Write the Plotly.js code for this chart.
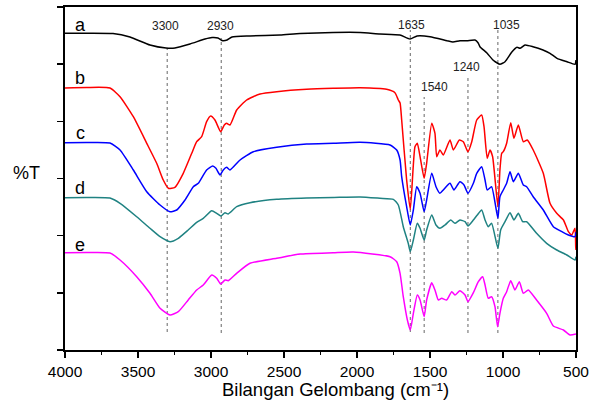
<!DOCTYPE html>
<html>
<head>
<meta charset="utf-8">
<script src="https://cdn.plot.ly/plotly-3.0.1.min.js"></script>
<style>html,body{margin:0;padding:0;background:#fff;}#chart{width:601px;height:400px;}</style>
</head>
<body>
<div id="chart"></div>
<script>
// Wavenumbers (cm-1) and transmittance (arbitrary, offset) values
const wnA = [4000,3671,3555,3418,3308,3247,3144,3041,2993,2952,2925,2890,2856,2733,2527,2390,2164,1979,1843,1706,1637,1589,1500,1384,1343,1295,1247,1192,1171,1158,1110,1069,1021,986,938,904,884,849,795,726,678,630,562,507,500];
const tA  = [316.7,316.5,313,305,302,302,306,311,312.5,312,309.5,310,313,314,315,316.5,317.5,317.5,316,315,311,314,313.3,309.3,308,309.3,309.3,310,307.3,303.3,297,290,285.7,288.3,298.3,302.7,301.7,305,303.3,300,296.7,291.7,288.3,285.7,290];

const wnB = [4000,3850,3692,3623,3532,3440,3372,3327,3292,3247,3190,3132,3098,3064,3030,3002,2973,2934,2909,2893,2870,2824,2756,2664,2550,2345,2162,1979,1797,1740,1717,1705,1694,1660,1635,1603,1587,1568,1540,1523,1488,1466,1454,1432,1409,1363,1340,1299,1272,1240,1214,1180,1146,1130,1108,1089,1071,1035,1021,1009,998,975,947,925,895,861,834,793,724,678,632,586,552,529,507,502,500];
const tB  = [262,262.5,262,253.3,233.3,206.7,186.7,170,161.7,162.7,176.7,196.7,208.3,213.3,228.3,234,230,218.3,225,226.7,225,240,250,256,258.3,260.7,261.7,262.3,260.7,257.3,250,247,230,170,140.5,203.3,206.7,193.3,171.7,186.7,226.7,216.7,193.3,200,195,210,200,210,208.3,198.3,208.3,230,235,223.3,191.7,200,193.3,143.3,180,196.7,198.3,206.7,227.3,211.7,225,208.3,210,200,176.7,146.7,136.7,130,118.3,115,121.7,103.3,100];

const wnC = [4000,3850,3692,3623,3532,3440,3349,3281,3235,3178,3121,3087,3030,2988,2966,2938,2916,2893,2870,2801,2710,2550,2345,2162,1979,1774,1728,1705,1694,1660,1635,1614,1591,1568,1540,1523,1488,1459,1432,1409,1363,1336,1295,1267,1240,1203,1180,1146,1123,1108,1078,1035,1021,998,975,952,929,895,861,838,793,724,655,597,552,507,500];
const tC  = [207.3,207.5,207,200,180,158.3,145,138.3,140,150,163.3,166.7,180,184,181.7,175,180,182.7,180,190,198.3,202.7,206,206.7,207.7,205,200,190,173.3,143.3,125,140,163.3,156.7,138.3,150,176.7,163.3,156.7,160,166.7,160,168.3,165,156.7,166.7,176.7,183.3,170,160,163.3,131.7,153.3,160,166.7,178.3,168.3,176.7,165,163.3,153.3,140,123.3,118.3,115,113.3,118];

const wnD = [4000,3850,3692,3623,3509,3418,3349,3281,3224,3156,3098,3053,2995,2961,2932,2904,2882,2824,2733,2550,2345,2162,1979,1843,1751,1717,1683,1649,1635,1614,1587,1568,1540,1523,1488,1459,1432,1397,1358,1329,1295,1260,1240,1203,1176,1146,1123,1101,1078,1035,1016,986,952,925,895,865,838,770,701,632,563,507,500];
const tD  = [152.3,152.5,152,146.7,133.3,121.7,113.3,108.3,111.7,120,127.7,131.7,139.3,136.7,134,137.3,136,143.3,147.3,150.7,152,152.5,153,151.7,150.7,145,123.3,106.7,98.3,110,126.7,121.7,110,120,135,125,121.7,125,130,126.7,130,128.3,124,130,135,140,130,123.3,126.7,101.7,120,128.3,137.3,130,136.7,128.3,128.3,116.7,106.7,100,95,90,93.3];

const wnE = [4000,3850,3692,3623,3509,3418,3349,3281,3224,3156,3098,3053,2995,2961,2934,2904,2882,2824,2733,2550,2390,2162,2025,1774,1728,1705,1683,1655,1635,1614,1587,1568,1540,1523,1488,1466,1443,1420,1386,1351,1329,1295,1260,1240,1203,1169,1139,1123,1101,1078,1055,1037,1021,998,975,947,918,888,861,827,770,701,655,586,541,500];
const tE  = [97.3,97.5,97,90,73.3,56.7,41.7,35,38.3,50,60,65,75,71.7,66,70,69.3,76.7,86.7,91.7,96,97.3,98,93.3,88.3,76.7,53.3,30,20,36.7,55,50,33.3,50,67.3,60,50,51.7,50,58.3,55,59.3,55,48.3,57.3,68.3,73.3,65,51.7,53.3,43.3,23.3,36.7,51.7,58.3,69.3,60,68.3,56.7,60,50,36.7,24,20,15,16];

const seriesNames = ['a','b','c','d','e'];
const peakWn    = [3300,2930,1635,1540,1240,1035];
const peakTop   = [302,312,320,253,275,320];
const peakBottom= [18,17,18,17,17,17];
const peakLabels= ['3300','2930','1635','1540','1240','1035'];
const xTickVals = [4000,3500,3000,2500,2000,1500,1000,500];

const FONT = 'Liberation Sans, Arial, sans-serif';
const colors = ['#000000','#ff0000','#0000ff','#1f8282','#ff00ff'];
const xs = [wnA,wnB,wnC,wnD,wnE];
const ys = [tA,tB,tC,tD,tE];

const traces = [];
for (let i=0;i<peakWn.length;i++){
  traces.push({x:[peakWn[i],peakWn[i]], y:[peakBottom[i],peakTop[i]], mode:'lines', type:'scatter',
    line:{color:'#666666', width:1, dash:'dot'}, hoverinfo:'skip', showlegend:false});
}
for (let i=0;i<5;i++){
  traces.push({x:xs[i], y:ys[i], mode:'lines', type:'scatter', name:seriesNames[i],
    line:{color:colors[i], width:1.5, shape:'spline', smoothing:0.5}, showlegend:false});
}

const annotations = [];
const letterY = [325,272,217,162,105];
for (let i=0;i<5;i++){
  annotations.push({x:3897, y:letterY[i], xref:'x', yref:'y', text:seriesNames[i], showarrow:false,
    xanchor:'center', yanchor:'middle', font:{family:FONT, size:18, color:'#000'}});
}
const labPos = [[3315,324.5],[2932,324.5],[1630,325],[1466,263.5],[1247,283],[973,325]];
for (let i=0;i<peakLabels.length;i++){
  annotations.push({x:labPos[i][0], y:labPos[i][1], xref:'x', yref:'y', text:peakLabels[i], showarrow:false,
    xanchor:'center', yanchor:'middle', font:{family:FONT, size:12, color:'#222'}});
}
annotations.push({x:0, y:0.516, xref:'paper', yref:'paper', xshift:-39, text:'%T', showarrow:false,
  xanchor:'center', yanchor:'middle', font:{family:FONT, size:18, color:'#000'}});
annotations.push({x:0.5, y:0, xref:'paper', yref:'paper', xshift:15, yshift:-39, text:'Bilangan Gelombang (cm\u207B\u00B9)', showarrow:false,
  xanchor:'center', yanchor:'middle', font:{family:FONT, size:18.5, color:'#000'}});

const layout = {
  width:601, height:400,
  margin:{l:65, r:25, t:7, b:50},
  paper_bgcolor:'#fff', plot_bgcolor:'#fff',
  xaxis:{
    range:[4000,500], tickvals:xTickVals, ticktext:xTickVals.map(String),
    showgrid:false, zeroline:false, showline:true, linecolor:'#000', linewidth:2, mirror:true,
    ticks:'outside', ticklen:6, tickwidth:1.5, tickcolor:'#000',
    minor:{dtick:250, ticks:'outside', ticklen:3, tickwidth:1.5, tickcolor:'#000', showgrid:false},
    tickfont:{family:FONT, size:15.5, color:'#000'}
  },
  yaxis:{
    range:[0,343], tick0:0, dtick:343/6, showticklabels:false,
    showgrid:false, zeroline:false, showline:true, linecolor:'#000', linewidth:2, mirror:true,
    ticks:'outside', ticklen:6, tickwidth:1.5, tickcolor:'#000'
  },
  shapes:[
    {type:'line', xref:'paper', yref:'paper', xsizemode:'pixel', xanchor:0, x0:-8, x1:0, y0:1, y1:1, line:{color:'#000', width:2}},
    {type:'line', xref:'paper', yref:'paper', xsizemode:'pixel', xanchor:0, x0:-8, x1:0, y0:0, y1:0, line:{color:'#000', width:2}}
  ],
  annotations:annotations,
  showlegend:false
};
Plotly.newPlot('chart', traces, layout, {displayModeBar:false, staticPlot:true});
</script>
</body>
</html>
